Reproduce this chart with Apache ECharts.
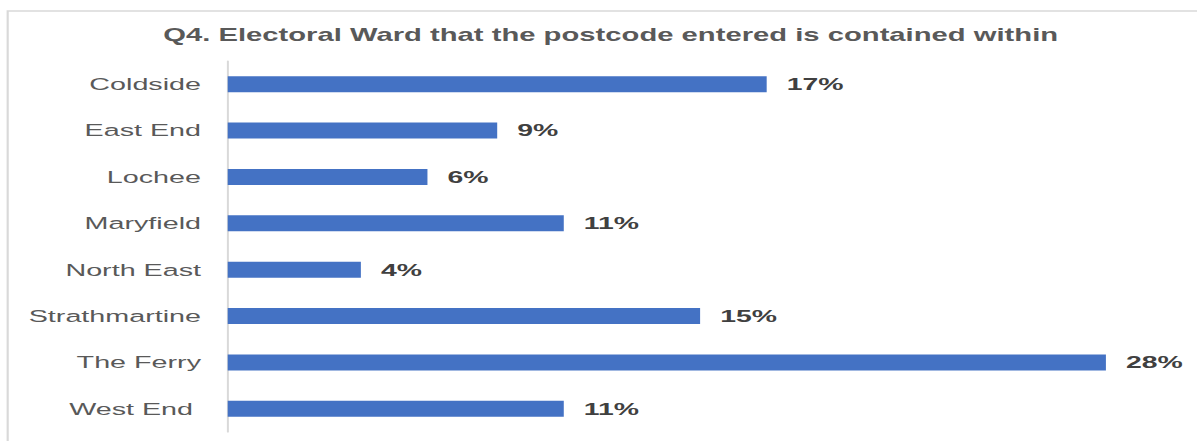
<!DOCTYPE html>
<html>
<head>
<meta charset="utf-8">
<script src="https://cdn.jsdelivr.net/npm/echarts@6/dist/echarts.min.js"></script>
<style>
  html, body { margin: 0; padding: 0; background: #ffffff; overflow: hidden; }
  #chart { width: 717px; height: 441px; transform: scaleX(1.6695); transform-origin: 0 0; }
</style>
</head>
<body>
<div id="chart"></div>
<script>
const titleText = 'Q4. Electoral Ward that the postcode entered is contained within';
const categories = ['Coldside', 'East End', 'Lochee', 'Maryfield', 'North East', 'Strathmartine', 'The Ferry', 'West End '];
const values = [17.0, 8.5, 6.3, 10.6, 4.2, 14.9, 27.7, 10.6];

const chart = echarts.init(document.getElementById('chart'), null, { renderer: 'svg' });
chart.setOption({
  animation: false,
  backgroundColor: '#ffffff',
  title: {
    text: titleText,
    left: 360.8,
    top: 21,
    textAlign: 'center',
    textStyle: { fontFamily: 'Liberation Sans', fontSize: 17.5, fontWeight: 'bold', color: '#595959' }
  },
  graphic: [{
    type: 'polyline',
    shape: { points: [[4.6, 441], [4.6, 11], [717, 11]] },
    style: { stroke: '#d9d9d9', lineWidth: 1.3, fill: null },
    silent: true
  }],
  grid: { left: 136.4, right: 10.9, top: 61, bottom: 9, containLabel: false },
  xAxis: {
    type: 'value', min: 0, max: 30,
    show: false
  },
  yAxis: {
    type: 'category',
    data: categories,
    inverse: true,
    axisLine: { show: true, lineStyle: { color: '#d9d9d9', width: 1.2 } },
    axisTick: { show: false },
    axisLabel: { margin: 16, fontFamily: 'Liberation Sans', fontSize: 17.2, color: '#595959' }
  },
  series: [{
    type: 'bar',
    data: values,
    barWidth: 16,
    itemStyle: { color: '#4472c4' },
    label: {
      show: true,
      position: 'right',
      distance: 12,
      fontFamily: 'Liberation Sans',
      fontSize: 17,
      fontWeight: 'bold',
      color: '#404040',
      formatter: p => Math.round(p.value) + '%'
    }
  }]
});
</script>
</body>
</html>
